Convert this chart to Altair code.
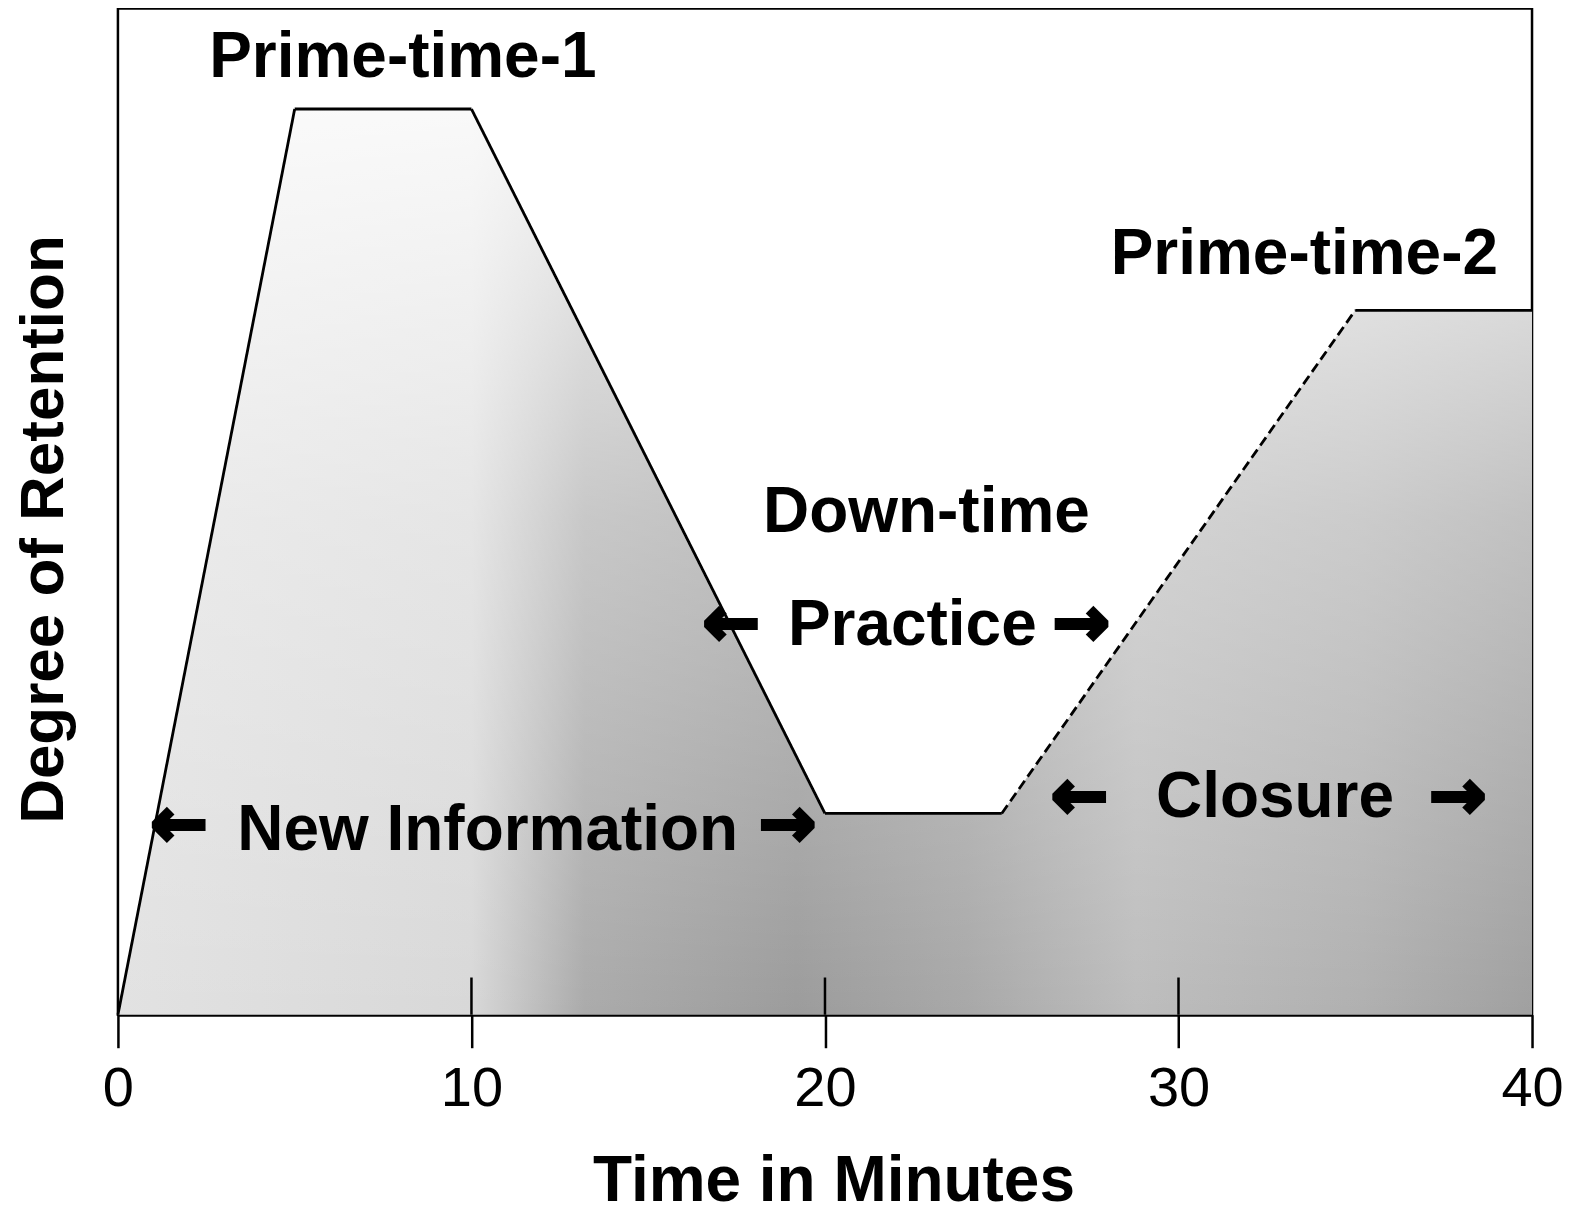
import altair as alt
import pandas as pd

# --- data ---
time_min = [0, 5, 10, 20, 25, 35, 40]
retention = [0, 90, 90, 20, 20, 70, 70]
segment_style = ["solid", "solid", "solid", "solid", "dashed", "solid"]  # style of each segment i -> i+1

x_ticks = [0, 10, 20, 30, 40]
inner_ticks = [10, 20, 30]
inner_tick_top = 3.7

label_text = ["Prime-time-1", "Prime-time-2", "Down-time", "Practice", "New Information", "Closure"]
label_x = [8.06, 33.56, 22.87, 22.47, 10.46, 32.73]
label_y = [93.15, 73.6, 48.0, 36.7, 16.4, 19.6]

arrow_text = ["\u2190", "\u2192", "\u2190", "\u2192", "\u2190", "\u2192"]
arrow_x = [1.73, 18.94, 17.35, 27.25, 27.2, 37.9]
arrow_y = [18.8, 18.8, 38.7, 38.7, 21.5, 21.5]

# --- tables ---
curve = pd.DataFrame({"t": time_min, "r": retention})
seg_rows = []
for i, st in enumerate(segment_style):
    for j in (i, i + 1):
        seg_rows.append({"seg": i, "t": time_min[j], "r": retention[j], "style": st})
segs = pd.DataFrame(seg_rows)
labels = pd.DataFrame({"text": label_text, "x": label_x, "y": label_y})
arrows = pd.DataFrame({"text": arrow_text, "x": arrow_x, "y": arrow_y})
stubs = pd.DataFrame({"x": inner_ticks, "y0": [0] * len(inner_ticks), "y1": [inner_tick_top] * len(inner_ticks)})

FONT = "Liberation Sans"

xscale = alt.Scale(domain=[0, 40], nice=False, zero=False)
yscale = alt.Scale(domain=[0, 100], nice=False)

xaxis = alt.Axis(
    values=x_ticks, grid=False, domain=True, domainColor="black", domainWidth=3,
    ticks=True, tickColor="black", tickSize=33, tickWidth=2.5,
    labelFont=FONT, labelFontSize=56, labelColor="black", labelPadding=14,
    labelFlush=False, labelOverlap=False,
    title="Time in Minutes", titleFont=FONT, titleFontSize=64, titleFontWeight="bold",
    titleColor="black", titleX=716, titleY=186, titleBaseline="alphabetic", titleAlign="center",
)
yaxis = alt.Axis(
    labels=False, ticks=False, domain=False, grid=False,
    title="Degree of Retention", titleFont=FONT, titleFontSize=62, titleFontWeight="bold",
    titleColor="black", titleAngle=270, titleX=-74, titleY=521,
    titleBaseline="middle", titleAlign="center",
)

xgrad = alt.Gradient(
    gradient="linear", x1=0, x2=1, y1=0, y2=0,
    stops=[
        alt.GradientStop(color="#e2e2e2", offset=0.0),
        alt.GradientStop(color="#d8d8d8", offset=0.25),
        alt.GradientStop(color="#ababab", offset=0.33),
        alt.GradientStop(color="#9c9c9c", offset=0.48),
        alt.GradientStop(color="#a8a8a8", offset=0.6),
        alt.GradientStop(color="#bdbdbd", offset=0.72),
        alt.GradientStop(color="#b0b0b0", offset=0.88),
        alt.GradientStop(color="#a0a0a0", offset=1.0),
    ],
)
ygrad = alt.Gradient(
    gradient="linear", x1=0, x2=0, y1=0, y2=1,
    stops=[
        alt.GradientStop(color="rgba(255,255,255,0.85)", offset=0.0),
        alt.GradientStop(color="rgba(255,255,255,0.35)", offset=0.45),
        alt.GradientStop(color="rgba(255,255,255,0.0)", offset=1.0),
    ],
)

base = alt.Chart(curve)
area = base.mark_area(fill=xgrad).encode(
    x=alt.X("t:Q", scale=xscale, axis=xaxis),
    y=alt.Y("r:Q", scale=yscale, axis=yaxis),
)
fade = base.mark_area(fill=ygrad).encode(x=alt.X("t:Q", scale=xscale), y=alt.Y("r:Q", scale=yscale))

line = alt.Chart(segs).mark_line(color="black", strokeWidth=2.8).encode(
    x=alt.X("t:Q", scale=xscale),
    y=alt.Y("r:Q", scale=yscale),
    detail="seg:N",
    strokeDash=alt.StrokeDash("style:N", scale=alt.Scale(domain=["solid", "dashed"], range=[[1, 0], [10, 5]]), legend=None),
)

stub = alt.Chart(stubs).mark_rule(color="black", strokeWidth=2.5).encode(
    x=alt.X("x:Q", scale=xscale), y=alt.Y("y0:Q", scale=yscale), y2="y1:Q"
)

text = alt.Chart(labels).mark_text(
    font=FONT, fontSize=64, fontWeight="bold", color="black", align="center", baseline="alphabetic"
).encode(x=alt.X("x:Q", scale=xscale), y=alt.Y("y:Q", scale=yscale), text="text:N")

arrow = alt.Chart(arrows).mark_text(
    font="DejaVu Sans", fontSize=68, fontWeight="bold", color="black", stroke="black", strokeWidth=4,
    align="center", baseline="middle"
).encode(x=alt.X("x:Q", scale=xscale), y=alt.Y("y:Q", scale=yscale), text="text:N")

chart = alt.layer(area, fade, line, stub, text, arrow).properties(
    width=1415, height=1007,
    autosize=alt.AutoSizeParams(type="none"),
    padding={"left": 110, "top": 0, "right": 40, "bottom": 200},
    background="white",
).configure_view(stroke="black", strokeWidth=2.5)

chart.save("out.html", embed_options={"renderer": "svg", "actions": False})
